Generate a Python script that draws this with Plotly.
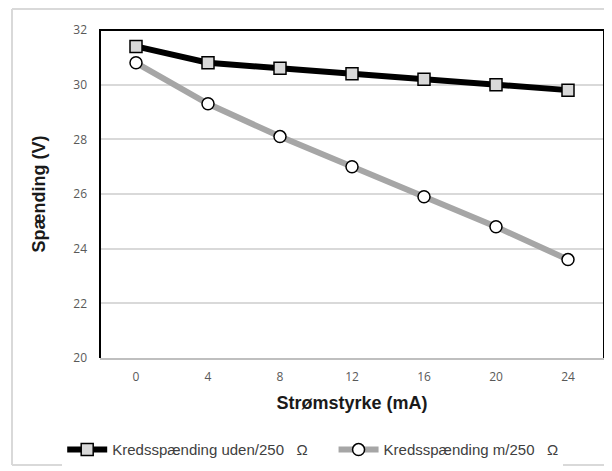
import plotly.graph_objects as go

# data
strom = ["0", "4", "8", "12", "16", "20", "24"]
uden_250 = [31.4, 30.8, 30.6, 30.4, 30.2, 30.0, 29.8]
med_250 = [30.8, 29.3, 28.1, 27.0, 25.9, 24.8, 23.6]
y_ticks = [20, 22, 24, 26, 28, 30, 32]

fig = go.Figure()

fig.add_trace(go.Scatter(
    x=strom, y=uden_250, mode="lines+markers",
    name="Kredsspænding uden/250   Ω     ",
    line=dict(color="black", width=6),
    marker=dict(symbol="square", size=12, color="#d9d9d9",
                line=dict(color="black", width=1.5)),
))
fig.add_trace(go.Scatter(
    x=strom, y=med_250, mode="lines+markers",
    name="Kredsspænding m/250   Ω",
    line=dict(color="#a6a6a6", width=6),
    marker=dict(symbol="circle", size=12, color="white",
                line=dict(color="black", width=1.5)),
))

# outer chart frame, in paper coordinates
fx0, fx1, fy0, fy1 = -0.1746, 1.006, -0.326, 1.064
frame = dict(type="line", xref="paper", yref="paper",
             line=dict(color="#d9d9d9", width=2), layer="below")

fig.update_layout(
    width=604, height=463,
    margin=dict(l=92, r=8, t=22, b=113, autoexpand=False),
    paper_bgcolor="white", plot_bgcolor="white",
    font=dict(family="Liberation Sans", color="#595959", size=12),
    showlegend=True,
    legend=dict(orientation="h", x=-0.075, xanchor="left", y=-0.28, yanchor="middle",
                itemwidth=40, font=dict(size=15, color="#404040"),
                traceorder="normal"),
    shapes=[
        dict(frame, x0=fx0, x1=fx1, y0=fy1, y1=fy1),
        dict(frame, x0=fx0, x1=fx1, y0=fy0, y1=fy0),
        dict(frame, x0=fx0, x1=fx0, y0=fy0, y1=fy1),
        dict(frame, x0=fx1, x1=fx1, y0=fy0, y1=fy1),
        # black plot frame (top, left, right)
        dict(type="path", xref="paper", yref="paper",
             path="M 0 0 L 0 1 L 1 1 L 1 0",
             line=dict(color="black", width=2)),
    ],
)

fig.update_xaxes(
    type="category", range=[-0.5, 6.5],
    showgrid=False, showline=True, linecolor="#bfbfbf", linewidth=2,
    ticks="", ticklabelstandoff=7,
    tickfont=dict(family="Open Sans", size=12, color="#595959"),
    title=dict(text="<b>Strømstyrke (mA)</b>", standoff=12,
               font=dict(family="Liberation Sans", size=18, color="#1a1a1a")),
)
fig.update_yaxes(
    range=[20, 32], tickvals=y_ticks,
    showgrid=True, gridcolor="#d9d9d9", gridwidth=1.5,
    zeroline=False, showline=False, ticks="", ticklabelstandoff=12,
    tickfont=dict(family="Open Sans", size=12, color="#595959"),
    title=dict(text="<b>Spænding (V)</b>", standoff=22,
               font=dict(family="Liberation Sans", size=18, color="#1a1a1a")),
)

fig.write_html("out.html")
